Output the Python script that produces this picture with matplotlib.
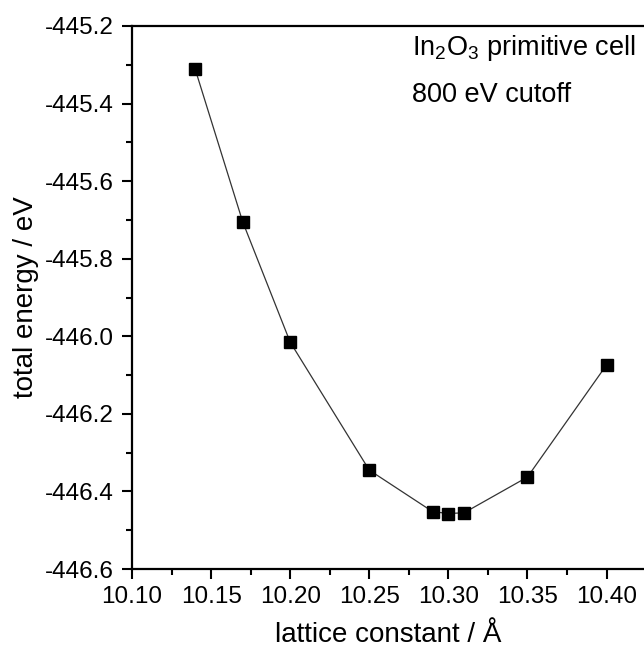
import matplotlib
matplotlib.use("Agg")
import matplotlib.pyplot as plt
from matplotlib.ticker import MultipleLocator, FormatStrFormatter

lattice = [10.14, 10.17, 10.20, 10.25, 10.29, 10.30, 10.31, 10.35, 10.40]
energy = [-445.312, -445.705, -446.015, -446.345, -446.452, -446.457, -446.455, -446.363, -446.074]
xlabel = "lattice constant / Å"
ylabel = "total energy / eV"
note1 = r"In$_2$O$_3$ primitive cell"
note2 = "800 eV cutoff"

plt.rcParams['font.family'] = ['Liberation Sans', 'DejaVu Sans']
plt.rcParams['mathtext.fontset'] = 'custom'
plt.rcParams['mathtext.rm'] = 'Liberation Sans'

W, H = 644, 652
fig = plt.figure(figsize=(W / 100, H / 100), dpi=100)
left, right, top, bottom = 132, 644, 26, 569
ax = fig.add_axes([left / W, 1 - bottom / H, (right - left) / W, (bottom - top) / H])

ax.plot(lattice, energy, color='#333333', lw=0.9, marker='s', markersize=9,
        markerfacecolor='black', markeredgecolor='black', zorder=3)

ax.set_xlim(10.10, 10.10 + (right - left) / 1581.7)
ax.set_ylim(-446.6, -445.2)
ax.xaxis.set_major_locator(MultipleLocator(0.05))
ax.xaxis.set_minor_locator(MultipleLocator(0.025))
ax.yaxis.set_major_locator(MultipleLocator(0.2))
ax.yaxis.set_minor_locator(MultipleLocator(0.1))
ax.xaxis.set_major_formatter(FormatStrFormatter('%.2f'))
ax.yaxis.set_major_formatter(FormatStrFormatter('%.1f'))

ax.spines['right'].set_visible(False)
for s in ['left', 'bottom', 'top']:
    ax.spines[s].set_linewidth(1.6)
ax.tick_params(which='major', direction='out', length=7, width=1.5, labelsize=17.5, pad=5)
ax.tick_params(which='minor', direction='out', length=4, width=1.5)
ax.tick_params(axis='y', pad=6)
ax.tick_params(top=False, which='both')

ax.set_xlabel(xlabel, fontsize=20, labelpad=10)
ax.set_ylabel(ylabel, fontsize=20, labelpad=4)

ax.text(10.277, -445.275, note1, fontsize=19.5, va='baseline', ha='left')
ax.text(10.277, -445.396, note2, fontsize=19.5, va='baseline', ha='left')

fig.savefig("out.png", dpi=100)
